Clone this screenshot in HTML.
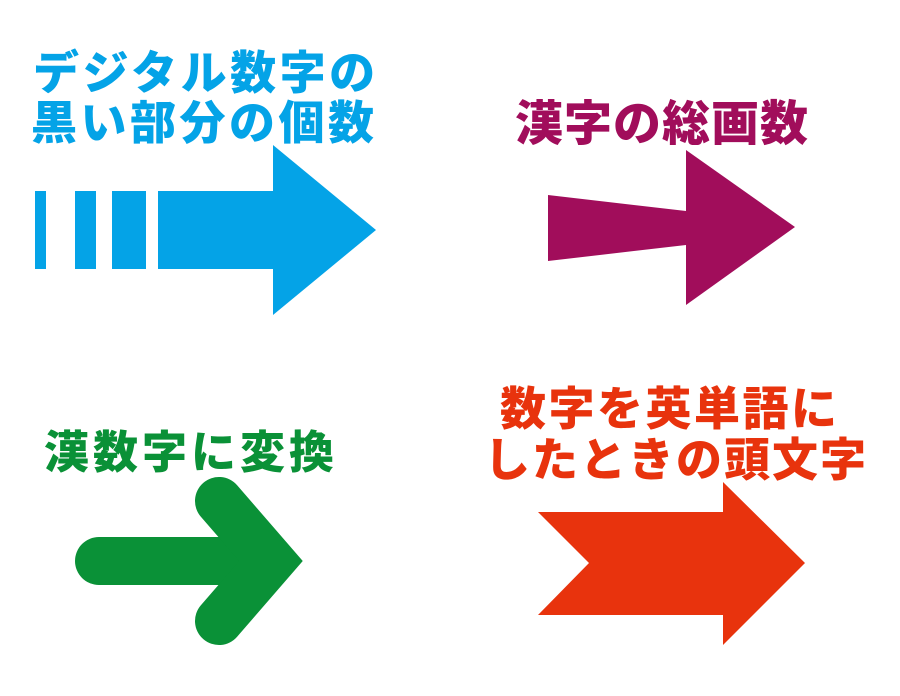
<!DOCTYPE html>
<html><head><meta charset="utf-8"><style>
html,body{margin:0;padding:0;background:#fff;}
body{width:900px;height:696px;position:relative;overflow:hidden;font-family:"Liberation Sans","Noto Sans CJK JP",sans-serif;font-weight:900;}
.t{position:absolute;white-space:nowrap;font-weight:900;line-height:1;}
</style></head><body>
<svg width="900" height="696" style="position:absolute;left:0;top:0">
<g fill="#04a3e7">
<rect x="35" y="191" width="11" height="78"/>
<rect x="75" y="191" width="21" height="78"/>
<rect x="112" y="191" width="34" height="78"/>
<polygon points="158,191 273,191 273,145 376,230 273,315 273,269 158,269"/>
</g>
<polygon fill="#a10d5b" points="548,195 686,211 686,150 795,227 686,305 686,245 548,261"/>
<polyline fill="none" stroke="#0a9137" stroke-width="48" stroke-linecap="round" points="99,561 270,561"/>
<polyline fill="none" stroke="#0a9137" stroke-width="48" stroke-linecap="round" stroke-linejoin="miter" points="219,501 271,561 219,621"/>
<polygon fill="#e8330d" points="538,512 723,512 723,482 805,563 723,645 723,615 538,615 589,563"/>
</svg>
<div class="t" style="left:33px;top:50px;font-size:46px;color:#04a3e7;letter-spacing:3.5px">デジタル数字の</div>
<div class="t" style="left:31px;top:100px;font-size:46px;color:#04a3e7;letter-spacing:3.5px">黒い部分の個数</div>
<div class="t" style="left:515px;top:101px;font-size:48px;color:#a10d5b;letter-spacing:1px">漢字の総画数</div>
<div class="t" style="left:44px;top:430px;font-size:45px;color:#0a9137;letter-spacing:4px">漢数字に変換</div>
<div class="t" style="left:500px;top:386px;font-size:46px;color:#e8330d;letter-spacing:2.5px">数字を英単語に</div>
<div class="t" style="left:484px;top:437px;font-size:46px;color:#e8330d;letter-spacing:2px">したときの頭文字</div>
</body></html>
